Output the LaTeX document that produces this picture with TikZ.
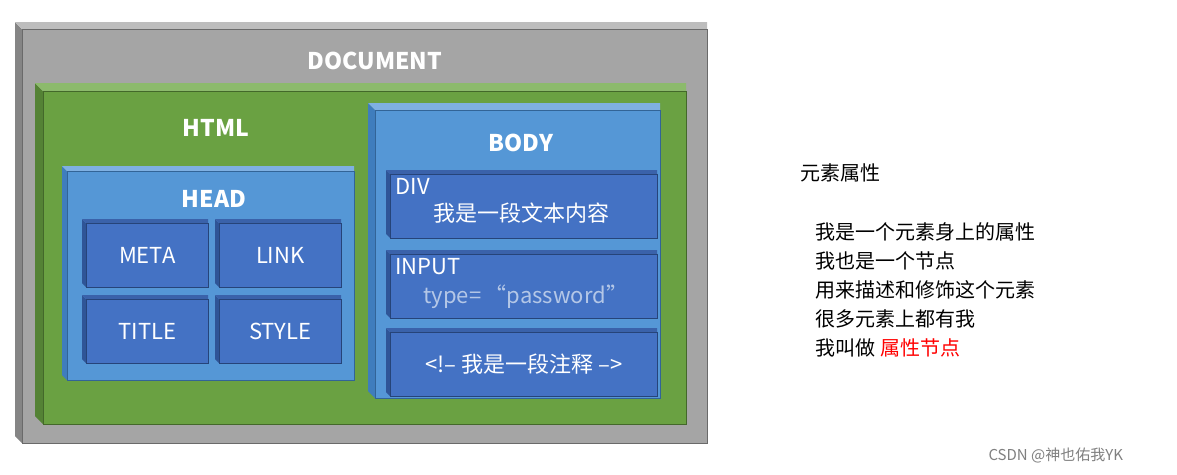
\documentclass[tikz,border=0pt]{standalone}
\usepackage{fontspec}
\setmainfont{Noto Sans CJK SC}
\definecolor{gface}{HTML}{A5A5A5}\definecolor{gtop}{HTML}{BDBDBD}\definecolor{gside}{HTML}{858585}
\definecolor{grface}{HTML}{6AA142}\definecolor{grtop}{HTML}{8CBA6C}\definecolor{grside}{HTML}{548235}
\definecolor{bface}{HTML}{5597D6}\definecolor{btop}{HTML}{7FB0E2}\definecolor{bside}{HTML}{3F7DBD}
\definecolor{dface}{HTML}{4472C4}\definecolor{dtop}{HTML}{3A62AA}\definecolor{dside}{HTML}{2F5597}
\newcommand{\bbox}[9]{%
  \fill[#9] (#2,#3) -- (#2+#6,#3+#6) -- (#2+#6,#5) -- (#2,#5-#6) -- cycle;
  \fill[#8] (#2,#3) -- (#4,#3) -- (#4,#3+#6) -- (#2+#6,#3+#6) -- cycle;
  \node[fill=#7,draw=#9!80!black,line width=0.6pt,inner sep=0,minimum width={(#4-#2-#6)*1pt},minimum height={(#5-#3-#6)*1pt},anchor=north west] (#1) at (#2+#6,#3+#6) {};
}
\tikzset{lbl/.style={text=white,font=\fontsize{22}{24}\selectfont},
 hd/.style={text=white,font=\bfseries\fontsize{23}{25}\selectfont},
 rt/.style={anchor=west,font=\fontsize{20}{24}\selectfont}}
\begin{document}
\begin{tikzpicture}[x=1pt,y=-1pt]
\useasboundingbox (0,0) rectangle (1177,474);
\fill[white] (0,0) rectangle (1177,474);
\bbox{doc}{15}{22}{707}{443}{7}{gface}{gtop}{gside}
\bbox{html}{35}{83}{686}{424}{8}{grface}{grtop}{grside}
\bbox{head}{62}{166}{354}{380}{5}{bface}{btop}{bside}
\bbox{meta}{82}{219}{208}{287}{4}{dface}{dtop}{dside}
\bbox{link}{215}{219}{341}{287}{4}{dface}{dtop}{dside}
\bbox{title}{82}{295}{208}{363}{4}{dface}{dtop}{dside}
\bbox{style}{215}{295}{341}{363}{4}{dface}{dtop}{dside}
\bbox{body}{368}{103}{660}{398}{7}{bface}{btop}{bside}
\bbox{div}{386}{170}{657}{238}{4}{dface}{dtop}{dside}
\bbox{input}{386}{250}{657}{318}{4}{dface}{dtop}{dside}
\bbox{cmt}{386}{328}{657}{396}{4}{dface}{dtop}{dside}
\node[hd] (tdoc) at (375,61) {DOCUMENT};
\node[hd] (thtml) at (216,128) {HTML};
\node[hd] (thead) at (214,199) {HEAD};
\node[hd] (tbody) at (521,143) {BODY};
\node[lbl] at (meta) {META};
\node[lbl] at (link) {LINK};
\node[lbl] at (title) {TITLE};
\node[lbl] at (style) {STYLE};
\node[lbl,anchor=west] (tdiv) at (392,186) {DIV};
\node[lbl,anchor=west] (tdiv2) at (430,213) {我是一段文本内容};
\node[lbl,anchor=west] (tin) at (392,267) {INPUT};
\node[lbl,anchor=west,text=white!60!dface] (tin2) at (420,297) {type=\,“password”};
\node[lbl] (tcmt) at (cmt) {<!-- 我是一段注释 -->};
\node[rt] (r0) at (797,173) {元素属性};
\node[rt] (r1) at (812,232) {我是一个元素身上的属性};
\node[rt] (r2) at (812,261) {我也是一个节点};
\node[rt] (r3) at (812,290) {用来描述和修饰这个元素};
\node[rt] (r4) at (812,319) {很多元素上都有我};
\node[rt] (r5) at (812,348) {我叫做 \textcolor{red}{属性节点}};
\node[anchor=west,text=gray,font=\fontsize{15}{17}\selectfont] (wm) at (985,455) {CSDN @神也佑我YK};
\end{tikzpicture}
\end{document}
